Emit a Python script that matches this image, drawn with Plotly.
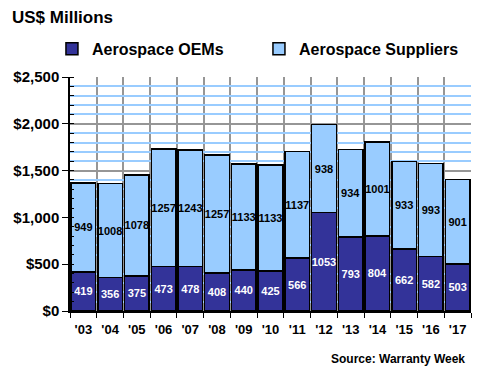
import plotly.graph_objects as go

years = ["'03", "'04", "'05", "'06", "'07", "'08", "'09", "'10", "'11", "'12", "'13", "'14", "'15", "'16", "'17"]
oems = [419, 356, 375, 473, 478, 408, 440, 425, 566, 1053, 793, 804, 662, 582, 503]
suppliers = [949, 1008, 1078, 1257, 1243, 1257, 1133, 1133, 1137, 938, 934, 1001, 933, 993, 901]
y_ticks = [0, 500, 1000, 1500, 2000, 2500]
y_ticktext = ["$0", "$500", "$1,000", "$1,500", "$2,000", "$2,500"]

FONT = "Arial, 'Liberation Sans', sans-serif"
xpos = list(range(len(years)))
boundaries = [i - 0.5 for i in range(len(years) + 1)]

fig = go.Figure()
fig.add_trace(go.Bar(
    x=xpos, y=oems, name="Aerospace OEMs",
    marker=dict(color="#333399", line=dict(color="black", width=1.5)),
    texttemplate="%{y}", textposition="inside", insidetextanchor="middle",
    textangle=0, constraintext="none",
    textfont=dict(family=FONT, size=11, color="white", weight="bold"),
))
fig.add_trace(go.Bar(
    x=xpos, y=suppliers, name="Aerospace Suppliers",
    marker=dict(color="#99CCFF", line=dict(color="black", width=1.5)),
    texttemplate="%{y}", textposition="inside", insidetextanchor="middle",
    textangle=0, constraintext="none",
    textfont=dict(family=FONT, size=11, color="black", weight="bold"),
))

fig.update_layout(
    width=472, height=372,
    margin=dict(l=62, r=9, t=69, b=69),
    barmode="stack", bargap=0.08,
    paper_bgcolor="white", plot_bgcolor="white",
    font=dict(family=FONT, color="black"),
    showlegend=True,
    legend=dict(
        orientation="h", x=-0.045, xanchor="left", y=1.12, yanchor="middle",
        traceorder="normal", entrywidth=162, entrywidthmode="pixels",
        font=dict(size=16, weight="bold"), bgcolor="rgba(0,0,0,0)",
    ),
    xaxis=dict(
        range=[-0.5, len(years) - 0.5],
        tickmode="array", tickvals=xpos, ticktext=years,
        ticks="", showgrid=False, automargin=False,
        showline=True, linecolor="black", linewidth=1.5,
        tickfont=dict(size=13, weight="bold"), ticklabelstandoff=6,
        zeroline=False,
        minor=dict(tickmode="array", tickvals=boundaries, ticks="outside",
                   ticklen=5, tickcolor="black", showgrid=True,
                   gridcolor="#969696", gridwidth=1.5),
    ),
    yaxis=dict(
        range=[0, 2500], automargin=False,
        tickmode="array", tickvals=y_ticks, ticktext=y_ticktext,
        ticks="outside", ticklen=6, tickcolor="black",
        showgrid=True, gridcolor="#969696", gridwidth=1.5,
        showline=True, linecolor="black", linewidth=1.5,
        tickfont=dict(size=15, weight="bold"),
        zeroline=False,
        minor=dict(dtick=100, ticks="inside", ticklen=4, tickcolor="black",
                   showgrid=True, gridcolor="#99CCFF", gridwidth=1.5),
    ),
    annotations=[
        dict(text="US$ Millions", xref="paper", yref="paper", x=-0.150, y=1.255,
             xanchor="left", yanchor="middle", showarrow=False,
             font=dict(size=17, weight="bold")),
        dict(text="Source: Warranty Week", xref="paper", yref="paper", x=0.99, y=-0.205,
             xanchor="right", yanchor="middle", showarrow=False,
             font=dict(size=12, weight="bold")),
    ],
)

fig.write_html("out.html")
